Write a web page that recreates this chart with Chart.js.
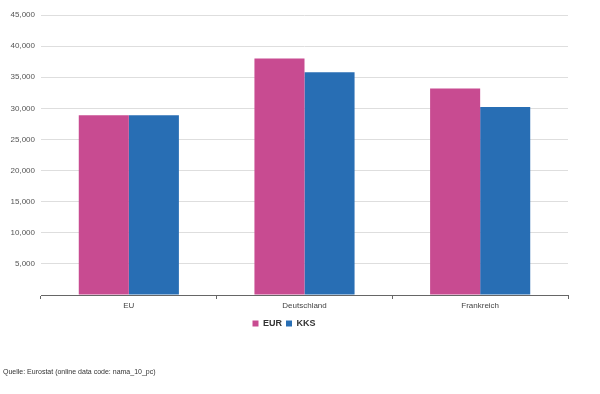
<!DOCTYPE html>
<html>
<head>
<meta charset="utf-8">
<script src="https://cdn.jsdelivr.net/npm/chart.js@4"></script>
<style>
html,body{margin:0;padding:0;background:#fff;}
#wrap{position:relative;width:600px;height:394px;}
#src{position:absolute;left:3px;top:368px;font:7px "Liberation Sans",Arial,sans-serif;color:#333;}
</style>
</head>
<body>
<div id="wrap">
<canvas id="c" width="600" height="394"></canvas>
<div id="src">Quelle: Eurostat (online data code: nama_10_pc)</div>
</div>
<script>
const categories = ["EU", "Deutschland", "Frankreich"];
const seriesNames = ["EUR", "KKS"];
const eurValues = [28900, 38000, 33200];
const kksValues = [28900, 35800, 30200];
const yTicks = [0, 5000, 10000, 15000, 20000, 25000, 30000, 35000, 40000, 45000];

const font = "'Liberation Sans', Arial, sans-serif";
new Chart(document.getElementById('c'), {
  type: 'bar',
  data: {
    labels: categories,
    datasets: [
      {label: seriesNames[0], data: eurValues, backgroundColor: '#c84b91', borderWidth: 0},
      {label: seriesNames[1], data: kksValues, backgroundColor: '#286eb4', borderWidth: 0}
    ]
  },
  options: {
    responsive: false,
    animation: false,
    devicePixelRatio: 1,
    categoryPercentage: 0.57,
    barPercentage: 1,
    layout: {padding: {top: 15, right: 32, bottom: 56, left: 0}},
    plugins: {
      legend: {
        position: 'bottom',
        labels: {
          boxWidth: 6, boxHeight: 6, padding: 4,
          color: '#333',
          font: {family: font, size: 9, weight: 'bold'}
        }
      },
      tooltip: {enabled: false}
    },
    scales: {
      x: {
        offset: true,
        border: {display: true, color: '#666', width: 1},
        grid: {display: true, drawOnChartArea: false, drawTicks: true, tickLength: 4, color: '#666'},
        ticks: {color: '#444', font: {family: font, size: 8}, padding: 2},
        afterFit: s => { s.height = 20; }
      },
      y: {
        min: 0, max: 45000,
        afterBuildTicks: s => { s.ticks = yTicks.map(v => ({value: v})); },
        border: {display: false},
        grid: {color: '#dedede', drawTicks: false},
        ticks: {
          color: '#555', font: {family: font, size: 8}, padding: 6,
          callback: v => v === 0 ? '' : v.toLocaleString('en-US')
        },
        afterFit: s => { s.width = 41; }
      }
    }
  }
});
</script>
</body>
</html>
